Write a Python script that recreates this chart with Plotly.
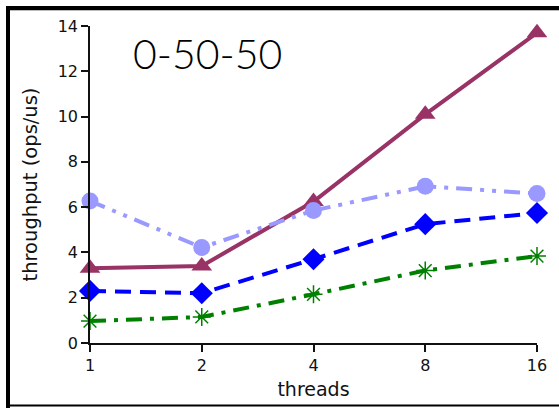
import plotly.graph_objects as go

threads = [1, 2, 4, 8, 16]
tick_text = ["1", "2", "4", "8", "16"]
purple_vals = [3.3, 3.4, 6.25, 10.1, 13.7]
lavender_vals = [6.27, 4.22, 5.85, 6.92, 6.6]
blue_vals = [2.3, 2.2, 3.7, 5.25, 5.74]
green_vals = [0.97, 1.15, 2.15, 3.2, 3.84]
y_ticks = [0, 2, 4, 6, 8, 10, 12, 14]

W, H = 559, 408
L, R, T, B = 90, 22, 26, 65
pw, ph = W - L - R, H - T - B

def px(x):
    return (x - L) / pw

def py(y):
    return (H - B - y) / ph

fig = go.Figure()

fig.add_trace(go.Scatter(
    x=threads, y=purple_vals, mode="lines+markers", cliponaxis=False,
    line=dict(color="#993366", width=4),
    marker=dict(symbol="triangle-up", size=18, color="#993366"),
))
fig.add_trace(go.Scatter(
    x=threads, y=lavender_vals, mode="lines+markers", cliponaxis=False,
    line=dict(color="#9999ff", width=4, dash="16px,8px,4px,8px,4px,8px"),
    marker=dict(symbol="circle", size=17, color="#9999ff"),
))
fig.add_trace(go.Scatter(
    x=threads, y=blue_vals, mode="lines+markers", cliponaxis=False,
    line=dict(color="#0000ff", width=4, dash="16px,9px"),
    marker=dict(symbol="diamond", size=17, color="#0000ff"),
))
fig.add_trace(go.Scatter(
    x=threads, y=green_vals, mode="lines+markers", cliponaxis=False,
    line=dict(color="#008000", width=4, dash="16px,8px,4px,8px"),
    marker=dict(symbol="asterisk-open", size=15, color="#008000",
                line=dict(color="#2a9a2a", width=1.5)),
))

axis_common = dict(
    showline=True, linecolor="#111111", linewidth=1.5,
    ticks="outside", ticklen=7, tickwidth=1.5, tickcolor="#111111",
    showgrid=False, zeroline=False,
    tickfont=dict(family="DejaVu Sans", size=16, color="#111111"),
    mirror=False,
)

fig.update_xaxes(
    type="log", range=[0, 1.2041199826559248],
    tickvals=threads, ticktext=tick_text,
    title=dict(text="threads", font=dict(family="DejaVu Sans", size=19, color="#111111"), standoff=9),
    **axis_common,
)
fig.update_yaxes(
    range=[0, 14], tickvals=y_ticks,
    title=dict(text="throughput (ops/us)", font=dict(family="DejaVu Sans", size=19.5, color="#111111"), standoff=15),
    **axis_common,
)

shapes = [
    dict(type="line", xref="paper", yref="paper", x0=px(6), x1=px(559), y0=py(8), y1=py(8),
         line=dict(color="black", width=4)),
    dict(type="line", xref="paper", yref="paper", x0=px(10), x1=px(559), y0=py(10.5), y1=py(10.5),
         line=dict(color="#bbbbbb", width=1)),
    dict(type="line", xref="paper", yref="paper", x0=px(8), x1=px(8), y0=py(6), y1=py(408),
         line=dict(color="black", width=4)),
    dict(type="line", xref="paper", yref="paper", x0=px(6), x1=px(559), y0=py(405.5), y1=py(405.5),
         line=dict(color="black", width=2)),
]

fig.update_layout(
    width=W, height=H,
    margin=dict(l=L, r=R, t=T, b=B),
    paper_bgcolor="white", plot_bgcolor="white",
    showlegend=False,
    shapes=shapes,
    annotations=[dict(
        text="0-50-50", xref="paper", yref="paper", x=px(131), y=py(27),
        xanchor="left", yanchor="top", showarrow=False,
        font=dict(family="Lato", size=41, color="black", weight=300),
    )],
)

fig.write_html("out.html")
